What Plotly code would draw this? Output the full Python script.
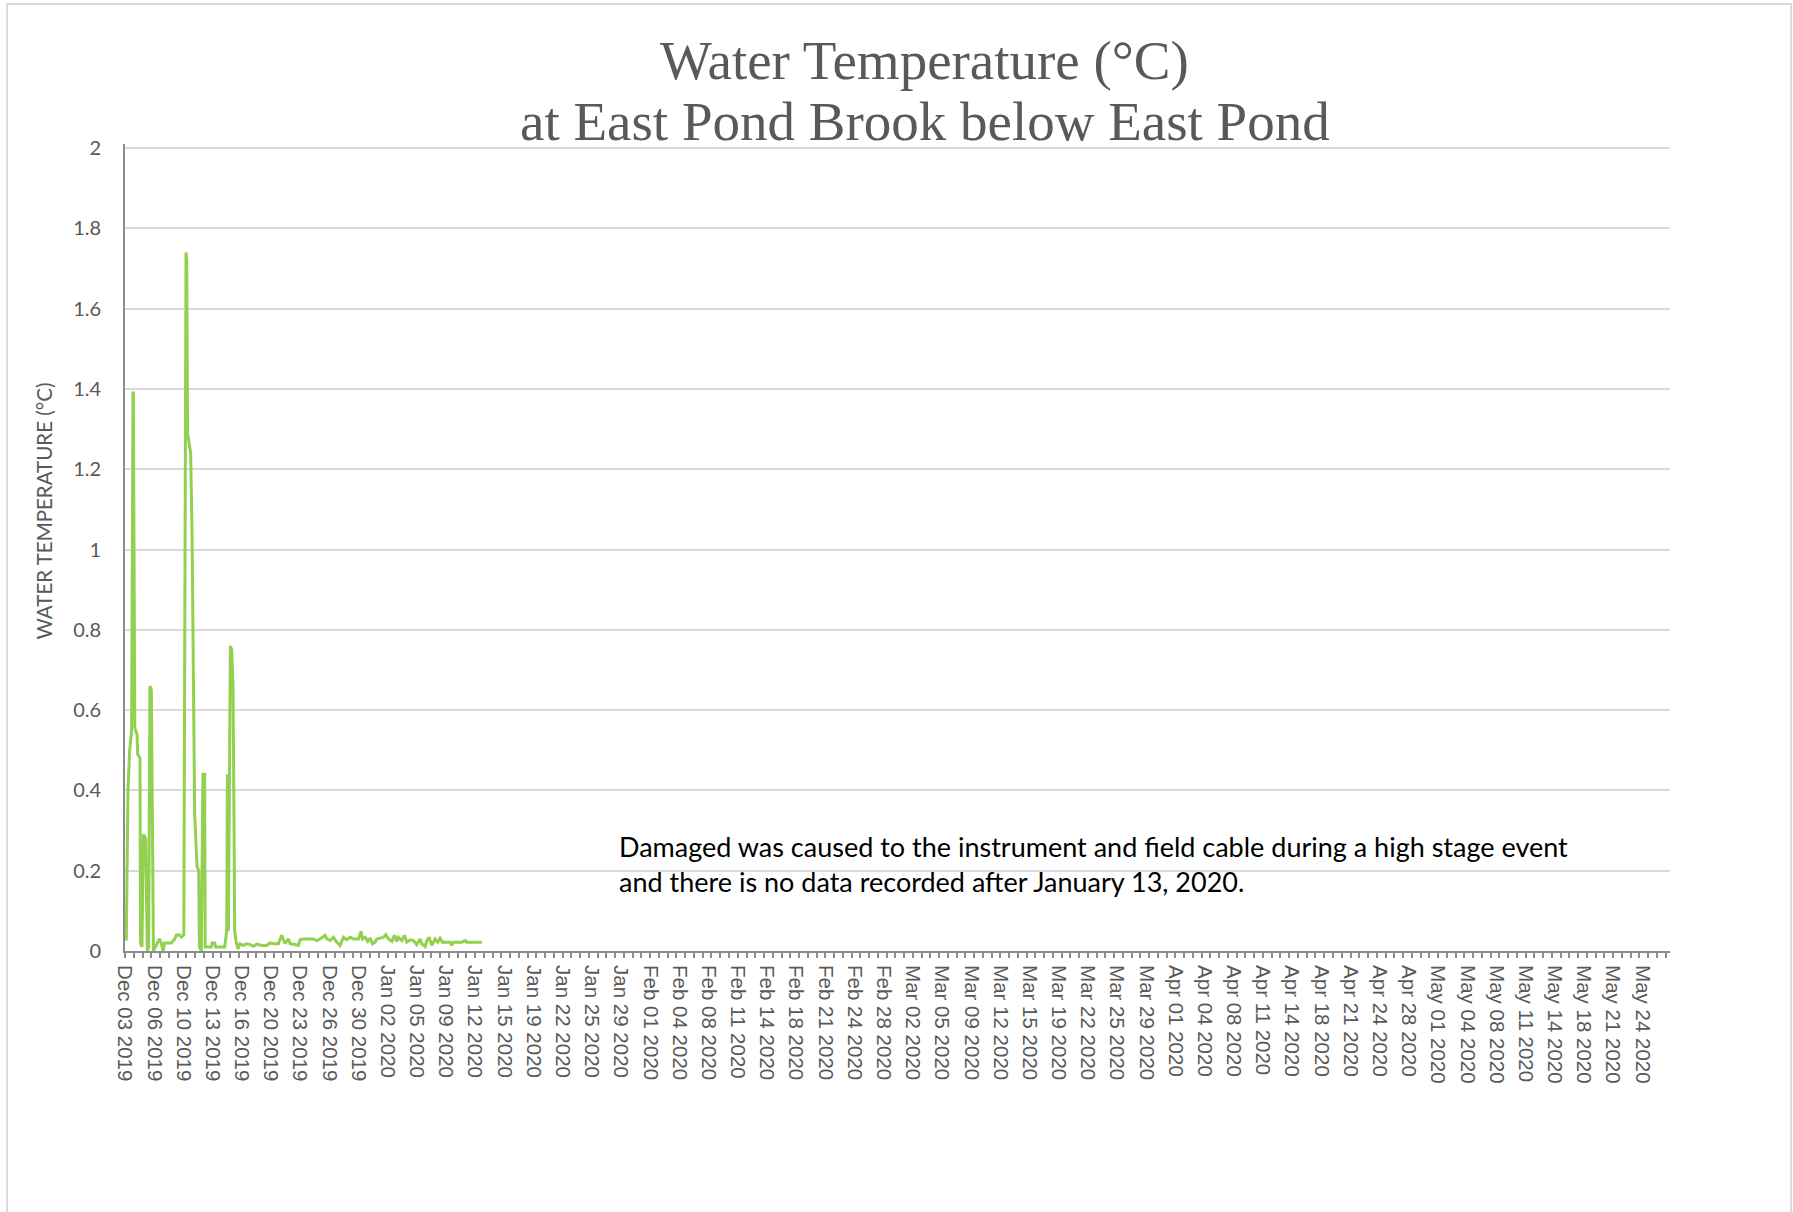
import pandas as pd
import plotly.graph_objects as go

# Logger record: elapsed days since deployment (2019-12-03 12:00) and water temperature (°C)
deploy_start = "2019-12-03 12:00"
elapsed_days = [
    0.00, 0.15, 0.34, 0.53, 0.72, 0.76, 0.91, 0.95, 1.12, 1.18, 1.37, 1.45, 1.71, 1.78,
    1.94, 2.03, 2.10, 2.36, 2.45, 2.55, 2.70, 2.85, 3.01, 3.12, 3.25, 3.47, 3.70, 3.92,
    4.15, 4.34, 4.53, 4.84, 5.10, 5.30, 5.49, 5.68, 5.87, 6.06, 6.25, 6.44, 6.63, 6.72,
    6.97, 7.05, 7.15, 7.39, 7.50, 7.66, 7.96, 8.23, 8.42, 8.50, 8.72, 8.90, 9.10, 9.16,
    9.49, 9.87, 9.95, 10.25, 10.35, 11.39, 11.62, 11.70, 11.81, 11.92, 12.04, 12.19,
    12.34, 12.46, 12.53, 12.72, 12.91,
    13.14, 13.52, 13.90, 14.29, 14.67, 15.05, 15.62, 16.19, 16.57, 16.95, 17.52, 17.90,
    18.10, 18.29, 18.67, 18.86, 19.43, 19.81, 20.00, 20.38, 21.52, 21.90, 22.29, 22.86,
    23.05, 23.43, 23.81, 24.19, 24.57, 24.95, 25.33, 25.71, 26.10, 26.67, 26.97, 27.12,
    27.43, 27.73, 28.00, 28.27, 28.57, 28.76, 29.14, 29.52, 29.79, 30.10, 30.48, 30.78,
    31.05, 31.24, 31.62, 31.92, 32.19, 32.57, 32.95, 33.33, 33.71, 33.90, 34.29, 34.48,
    34.74, 35.05, 35.43, 35.73, 36.00, 36.27, 36.57, 37.14, 37.33, 37.52, 38.48, 38.86,
    39.05, 40.76,
]
water_temp = [
    0.03, 0.03, 0.40, 0.50, 0.54, 0.56, 1.39, 1.39, 0.56, 0.55, 0.54, 0.49, 0.48, 0.02,
    0.01, 0.25, 0.29, 0.28, 0.10, 0.00, 0.01, 0.66, 0.65, 0.33, 0.00, 0.01, 0.02, 0.03,
    0.02, 0.00, 0.02, 0.02, 0.02, 0.02, 0.025, 0.03, 0.04, 0.04, 0.04, 0.035, 0.04, 0.04,
    1.74, 1.72, 1.29, 1.25, 1.24, 1.04, 0.34, 0.21, 0.20, 0.01, 0.00, 0.44, 0.44, 0.01,
    0.01, 0.01, 0.02, 0.02, 0.01, 0.01, 0.05, 0.44, 0.05, 0.44, 0.76, 0.75,
    0.66, 0.30, 0.05, 0.02, 0.005,
    0.018, 0.014, 0.018, 0.016, 0.012, 0.017, 0.014, 0.014, 0.020, 0.018, 0.018, 0.039,
    0.028, 0.018, 0.030, 0.018, 0.016, 0.014, 0.028, 0.030, 0.030, 0.026, 0.030, 0.039,
    0.030, 0.026, 0.034, 0.022, 0.014, 0.034, 0.028, 0.034, 0.030, 0.030, 0.049, 0.030,
    0.034, 0.024, 0.032, 0.018, 0.022, 0.030, 0.032, 0.034, 0.041, 0.030, 0.024, 0.039,
    0.024, 0.034, 0.026, 0.039, 0.022, 0.028, 0.026, 0.016, 0.030, 0.018, 0.011, 0.026,
    0.034, 0.014, 0.030, 0.022, 0.032, 0.022, 0.022, 0.022, 0.014, 0.022, 0.022, 0.026,
    0.022, 0.022,
]

axis_span_days = 176.5        # date axis runs to late May 2020
label_step_hours = 80         # one date label every 80 hours
tick_step_hours = 24          # one tick mark per day
y_top = 2.01                  # a little headroom so the 2.0 gridline is drawn

title_lines = ["Water Temperature (°C)", "at East Pond Brook below East Pond"]
y_title = "WATER TEMPERATURE (°C)"
note_text = ("Damaged was caused to the instrument and field cable during a high stage event<br>"
             "and there is no data recorded after January 13, 2020.")

t0 = pd.Timestamp(deploy_start)
times = t0 + pd.to_timedelta(elapsed_days, unit="D")
t_end = t0 + pd.Timedelta(days=axis_span_days)

W, H = 1793, 1212
L, R, T, B = 125, 1670, 144, 951   # plot area in pixels


def px_x(x):
    return (x - L) / (R - L)


def px_y(y):
    return (B - y) / (B - T)


GRAY_TXT = "#595959"
AXIS_GRAY = "#8C8C8C"

rng = [t0.strftime("%Y-%m-%d %H:%M:%S"), t_end.strftime("%Y-%m-%d %H:%M:%S")]

fig = go.Figure()
# temperature line on the daily-tick axis
fig.add_trace(go.Scatter(
    x=times, y=water_temp, mode="lines",
    line=dict(color="#92D050", width=3),
    xaxis="x", showlegend=False, hoverinfo="x+y",
))
# empty series so the date-label axis is drawn
fig.add_trace(go.Scatter(
    x=[], y=[], mode="lines", xaxis="x2", showlegend=False, hoverinfo="skip",
))

fig.update_layout(
    width=W, height=H,
    margin=dict(l=L, r=W - R, t=T, b=H - B, pad=0),
    paper_bgcolor="white", plot_bgcolor="white",
    xaxis=dict(
        type="date", range=rng,
        tickmode="linear", tick0=rng[0], dtick=tick_step_hours * 3600 * 1000,
        ticks="outside", ticklen=5, tickwidth=1.5, tickcolor=AXIS_GRAY,
        showticklabels=False, showgrid=False, zeroline=False,
        showline=True, linecolor=AXIS_GRAY, linewidth=1.8,
    ),
    xaxis2=dict(
        type="date", range=rng, overlaying="x", anchor="y", side="bottom",
        tickmode="linear", tick0=rng[0], dtick=label_step_hours * 3600 * 1000,
        tickformat="%b %d %Y", tickangle=90,
        ticks="outside", ticklen=9, tickcolor="rgba(0,0,0,0)",
        tickfont=dict(family="Liberation Sans", size=20.5, color=GRAY_TXT),
        showgrid=False, zeroline=False, showline=False,
    ),
    yaxis=dict(
        range=[0, y_top], tickmode="linear", tick0=0, dtick=0.2,
        showgrid=True, gridcolor="#D9D9D9", gridwidth=1.5,
        zeroline=False, showline=True, linecolor=AXIS_GRAY, linewidth=1.8,
        ticks="outside", ticklen=18, tickcolor="rgba(0,0,0,0)",
        tickfont=dict(family="Lato", size=20, color=GRAY_TXT),
    ),
    font=dict(family="Lato", color=GRAY_TXT),
)

# chart title, two lines
for text, yc in zip(title_lines, [60.5, 122]):
    fig.add_annotation(
        text=text, x=px_x(925), y=px_y(yc), xref="paper", yref="paper",
        xanchor="center", yanchor="middle", showarrow=False,
        font=dict(family="Liberation Serif", size=55, color=GRAY_TXT),
    )

# vertical axis title
fig.add_annotation(
    text=y_title, x=px_x(43.5), y=px_y(511), xref="paper", yref="paper",
    xanchor="center", yanchor="middle", textangle=-90, showarrow=False,
    font=dict(family="Lato", size=20.5, color=GRAY_TXT),
)

# data gap note
fig.add_annotation(
    text=note_text, x=px_x(617), y=px_y(864), xref="paper", yref="paper",
    xanchor="left", yanchor="middle", align="left", showarrow=False,
    font=dict(family="Lato", size=27, color="#000000"),
)

# chart frame
fig.add_shape(
    type="rect", xref="paper", yref="paper",
    x0=px_x(7), x1=px_x(1791), y0=px_y(1230), y1=px_y(4),
    line=dict(color="#D9D9D9", width=1.8), fillcolor="rgba(0,0,0,0)", layer="below",
)

fig.write_html("out.html")
